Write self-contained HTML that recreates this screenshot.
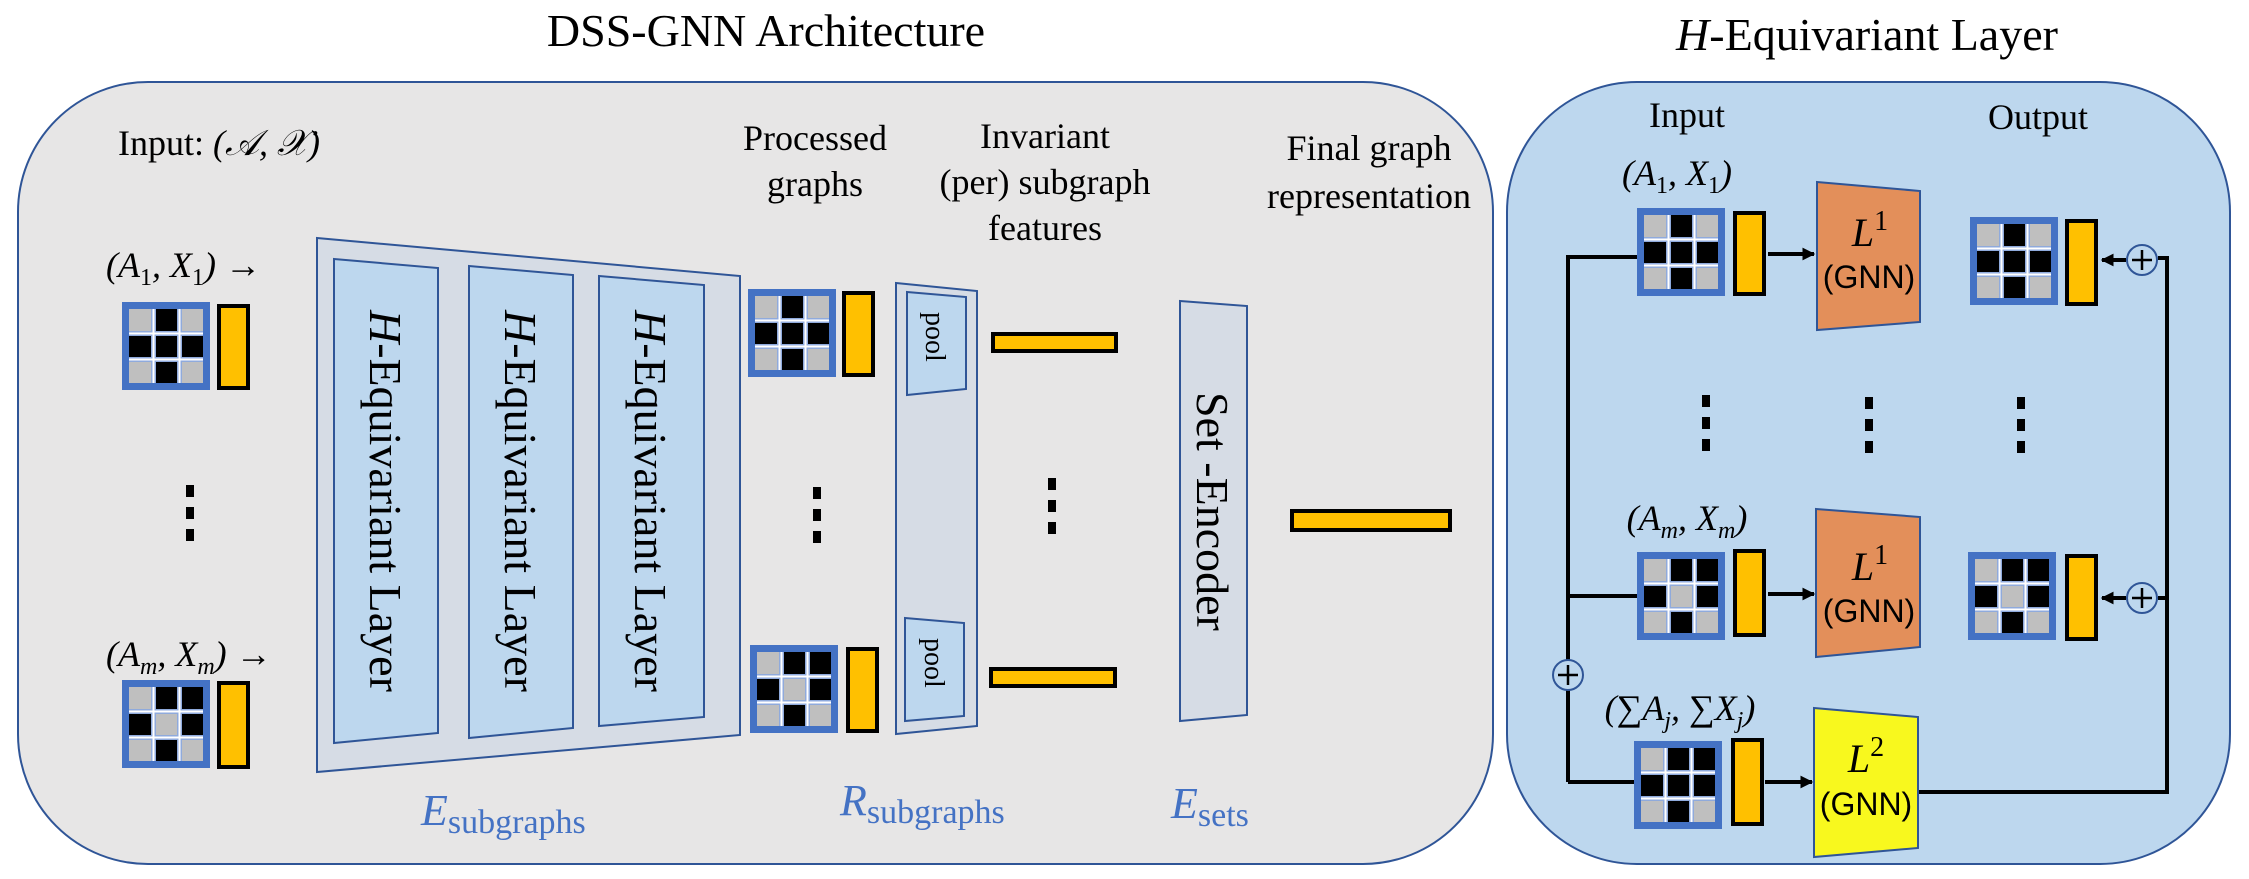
<!DOCTYPE html>
<html><head><meta charset="utf-8"><style>html,body{margin:0;padding:0;background:#fff}svg{display:block}</style></head><body>
<svg width="2249" height="879" viewBox="0 0 2249 879" xmlns="http://www.w3.org/2000/svg">
<defs>
<marker id="ah" viewBox="0 0 10 10" refX="9" refY="5" markerWidth="3.2" markerHeight="3.2" orient="auto"><path d="M0,0L10,5L0,10z" fill="#000"/></marker>
<g id="mA">
<rect x="0" y="0" width="88" height="88" fill="#4472C4"/>
<rect x="7" y="7" width="74" height="74" fill="#8FAADC"/>
<line x1="7" y1="31.5" x2="81" y2="31.5" stroke="#fff" stroke-width="2"/><line x1="7" y1="57.5" x2="81" y2="57.5" stroke="#fff" stroke-width="2"/>
<line x1="31.5" y1="7" x2="31.5" y2="81" stroke="#fff" stroke-width="2"/><line x1="57.5" y1="7" x2="57.5" y2="81" stroke="#fff" stroke-width="2"/>
</g>
<g id="m1"><use href="#mA"/>
<rect x="7" y="7" width="22" height="22" fill="#BFBFBF"/><rect x="34" y="7" width="21" height="22" fill="#000"/><rect x="60" y="7" width="21" height="22" fill="#BFBFBF"/>
<rect x="7" y="34" width="22" height="21" fill="#000"/><rect x="34" y="34" width="21" height="21" fill="#000"/><rect x="60" y="34" width="21" height="21" fill="#000"/>
<rect x="7" y="60" width="22" height="21" fill="#BFBFBF"/><rect x="34" y="60" width="21" height="21" fill="#000"/><rect x="60" y="60" width="21" height="21" fill="#BFBFBF"/>
</g>
<g id="m2"><use href="#mA"/>
<rect x="7" y="7" width="22" height="22" fill="#BFBFBF"/><rect x="34" y="7" width="21" height="22" fill="#000"/><rect x="60" y="7" width="21" height="22" fill="#000"/>
<rect x="7" y="34" width="22" height="21" fill="#000"/><rect x="34" y="34" width="21" height="21" fill="#BFBFBF"/><rect x="60" y="34" width="21" height="21" fill="#000"/>
<rect x="7" y="60" width="22" height="21" fill="#BFBFBF"/><rect x="34" y="60" width="21" height="21" fill="#000"/><rect x="60" y="60" width="21" height="21" fill="#BFBFBF"/>
</g>
<g id="m3"><use href="#mA"/>
<rect x="7" y="7" width="22" height="22" fill="#BFBFBF"/><rect x="34" y="7" width="21" height="22" fill="#000"/><rect x="60" y="7" width="21" height="22" fill="#000"/>
<rect x="7" y="34" width="22" height="21" fill="#000"/><rect x="34" y="34" width="21" height="21" fill="#000"/><rect x="60" y="34" width="21" height="21" fill="#000"/>
<rect x="7" y="60" width="22" height="21" fill="#BFBFBF"/><rect x="34" y="60" width="21" height="21" fill="#000"/><rect x="60" y="60" width="21" height="21" fill="#BFBFBF"/>
</g>
<g id="dots"><rect x="-4" y="0" width="8" height="12" fill="#000"/><rect x="-4" y="22" width="8" height="12" fill="#000"/><rect x="-4" y="44" width="8" height="12" fill="#000"/></g>
</defs>

<g font-family="Liberation Serif, serif" fill="#000">
<text x="766" y="46" font-size="46" text-anchor="middle">DSS-GNN Architecture</text>
<text x="1867" y="50" font-size="46" text-anchor="middle"><tspan font-style="italic">H</tspan>-Equivariant Layer</text>
</g>

<path d="M148,82 H1363 A130,130 0 0 1 1493,212 V734 A130,130 0 0 1 1363,864 H148 A130,130 0 0 1 18,734 V212 A130,130 0 0 1 148,82 Z" fill="#E7E6E6" stroke="#2F5597" stroke-width="2"/>
<path d="M1637,82 H2100 A130,130 0 0 1 2230,212 V734 A130,130 0 0 1 2100,864 H1637 A130,130 0 0 1 1507,734 V212 A130,130 0 0 1 1637,82 Z" fill="#BDD7EE" stroke="#2F5597" stroke-width="2"/>

<g font-family="Liberation Serif, serif" fill="#000" font-size="36">
<text x="118" y="155">Input:  <tspan font-style="italic">(𝒜, 𝒳)</tspan></text>
<text x="815" y="150" text-anchor="middle">Processed</text>
<text x="815" y="196" text-anchor="middle">graphs</text>
<text x="1045" y="148" text-anchor="middle">Invariant</text>
<text x="1045" y="194" text-anchor="middle">(per) subgraph</text>
<text x="1045" y="240" text-anchor="middle">features</text>
<text x="1369" y="160" text-anchor="middle">Final graph</text>
<text x="1369" y="208" text-anchor="middle">representation</text>
<text x="106" y="277" font-style="italic">(A<tspan font-size="24" dy="8" font-style="normal">1</tspan><tspan dy="-8">, X</tspan><tspan font-size="24" dy="8" font-style="normal">1</tspan><tspan dy="-8">) </tspan><tspan font-style="normal">→</tspan></text>
<text x="106" y="666" font-style="italic">(A<tspan font-size="24" dy="8">m</tspan><tspan dy="-8">, X</tspan><tspan font-size="24" dy="8">m</tspan><tspan dy="-8">) </tspan><tspan font-style="normal">→</tspan></text>
<text x="1687" y="127" text-anchor="middle">Input</text>
<text x="2038" y="129" text-anchor="middle">Output</text>
<text x="1677" y="185" text-anchor="middle" font-style="italic">(A<tspan font-size="24" dy="8" font-style="normal">1</tspan><tspan dy="-8">, X</tspan><tspan font-size="24" dy="8" font-style="normal">1</tspan><tspan dy="-8">)</tspan></text>
<text x="1687" y="530" text-anchor="middle" font-style="italic">(A<tspan font-size="24" dy="8">m</tspan><tspan dy="-8">, X</tspan><tspan font-size="24" dy="8">m</tspan><tspan dy="-8">)</tspan></text>
<text x="1680" y="720" text-anchor="middle" font-style="italic">(∑A<tspan font-size="24" dy="8">j</tspan><tspan dy="-8">, ∑X</tspan><tspan font-size="24" dy="8">j</tspan><tspan dy="-8">)</tspan></text>
</g>

<use href="#m1" x="122" y="302"/>
<rect x="219" y="306" width="29" height="82" fill="#FFC000" stroke="#000" stroke-width="4"/>
<use href="#m2" x="122" y="680"/>
<rect x="219" y="683" width="29" height="84" fill="#FFC000" stroke="#000" stroke-width="4"/>
<use href="#dots" x="190" y="485"/>

<polygon points="317,238 740,276 740,735 317,772" fill="#D6DCE5" stroke="#2F5597" stroke-width="2"/>
<polygon points="334,259 438,268 438,733 334,743" fill="#BDD7EE" stroke="#2F5597" stroke-width="2"/>
<polygon points="469,266 573,275 573,728 469,738" fill="#BDD7EE" stroke="#2F5597" stroke-width="2"/>
<polygon points="599,276 704,285 704,717 599,726" fill="#BDD7EE" stroke="#2F5597" stroke-width="2"/>

<use href="#m1" x="748" y="289"/>
<rect x="844" y="293" width="29" height="82" fill="#FFC000" stroke="#000" stroke-width="4"/>
<use href="#m2" x="750" y="645"/>
<rect x="848" y="649" width="29" height="82" fill="#FFC000" stroke="#000" stroke-width="4"/>
<use href="#dots" x="817" y="487"/>

<polygon points="896,283 977,291 977,726 896,734" fill="#D6DCE5" stroke="#2F5597" stroke-width="2"/>
<polygon points="907,292 966,297 966,389 907,395" fill="#BDD7EE" stroke="#2F5597" stroke-width="2"/>
<polygon points="905,618 964,623 964,716 905,721" fill="#BDD7EE" stroke="#2F5597" stroke-width="2"/>
<g font-family="Liberation Serif, serif" font-size="28" fill="#000">
<text transform="translate(926,312) rotate(90)">pool</text>
<text transform="translate(925,638) rotate(90)">pool</text>
</g>
<rect x="993" y="334" width="123" height="17" fill="#FFC000" stroke="#000" stroke-width="4"/>
<rect x="991" y="669" width="124" height="17" fill="#FFC000" stroke="#000" stroke-width="4"/>
<use href="#dots" x="1052" y="478"/>

<polygon points="1180,301 1247,306 1247,715 1180,721" fill="#D6DCE5" stroke="#2F5597" stroke-width="2"/>
<rect x="1292" y="511" width="158" height="19" fill="#FFC000" stroke="#000" stroke-width="4"/>

<g font-family="Liberation Serif, serif" font-size="46" fill="#000">
<text transform="translate(370,310) rotate(90)"><tspan font-style="italic">H</tspan>-Equivariant Layer</text>
<text transform="translate(505,310) rotate(90)"><tspan font-style="italic">H</tspan>-Equivariant Layer</text>
<text transform="translate(635,310) rotate(90)"><tspan font-style="italic">H</tspan>-Equivariant Layer</text>
<text transform="translate(1197,392) rotate(90)">Set -Encoder</text>
</g>

<g font-family="Liberation Serif, serif" fill="#4472C4" font-style="italic">
<text x="421" y="825" font-size="44">E<tspan font-size="34" dy="8" font-style="normal">subgraphs</tspan></text>
<text x="840" y="815" font-size="44">R<tspan font-size="34" dy="8" font-style="normal">subgraphs</tspan></text>
<text x="1171" y="818" font-size="44">E<tspan font-size="34" dy="8" font-style="normal">sets</tspan></text>
</g>

<g stroke="#000" stroke-width="4" fill="none">
<polyline points="1637,257 1568,257 1568,660"/>
<line x1="1568" y1="690" x2="1568" y2="782"/>
<line x1="1568" y1="596" x2="1637" y2="596"/>
<line x1="1568" y1="782" x2="1634" y2="782"/>
<polyline points="1918,792 2167,792 2167,258 2158,258"/>
<line x1="2167" y1="598" x2="2158" y2="598"/>
<line x1="1768" y1="254" x2="1814" y2="254" marker-end="url(#ah)"/>
<line x1="1768" y1="594" x2="1814" y2="594" marker-end="url(#ah)"/>
<line x1="1765" y1="782" x2="1812" y2="782" marker-end="url(#ah)"/>
<line x1="2126" y1="260" x2="2102" y2="260" marker-end="url(#ah)"/>
<line x1="2126" y1="598" x2="2102" y2="598" marker-end="url(#ah)"/>
</g>
<use href="#m1" x="1637" y="208"/>
<rect x="1735" y="213" width="29" height="81" fill="#FFC000" stroke="#000" stroke-width="4"/>
<use href="#m2" x="1637" y="552"/>
<rect x="1735" y="551" width="29" height="84" fill="#FFC000" stroke="#000" stroke-width="4"/>
<use href="#m3" x="1634" y="741"/>
<rect x="1733" y="740" width="29" height="84" fill="#FFC000" stroke="#000" stroke-width="4"/>
<use href="#m1" x="1970" y="217"/>
<rect x="2067" y="221" width="29" height="83" fill="#FFC000" stroke="#000" stroke-width="4"/>
<use href="#m2" x="1968" y="552"/>
<rect x="2067" y="556" width="29" height="83" fill="#FFC000" stroke="#000" stroke-width="4"/>

<polygon points="1817,182 1920,191 1920,322 1817,330" fill="#E38F5A" stroke="#2F5597" stroke-width="2"/>
<polygon points="1816,509 1920,517 1920,647 1816,657" fill="#E38F5A" stroke="#2F5597" stroke-width="2"/>
<polygon points="1814,708 1918,717 1918,848 1814,857" fill="#F8F81E" stroke="#2F5597" stroke-width="2"/>
<g fill="#000" text-anchor="middle">
<text x="1870" y="246" font-family="Liberation Serif, serif" font-style="italic" font-size="40">L<tspan font-style="normal" font-size="28" dy="-16">1</tspan></text>
<text x="1869" y="288" font-family="Liberation Sans, sans-serif" font-size="32">(GNN)</text>
<text x="1870" y="580" font-family="Liberation Serif, serif" font-style="italic" font-size="40">L<tspan font-style="normal" font-size="28" dy="-16">1</tspan></text>
<text x="1869" y="622" font-family="Liberation Sans, sans-serif" font-size="32">(GNN)</text>
<text x="1866" y="772" font-family="Liberation Serif, serif" font-style="italic" font-size="40">L<tspan font-style="normal" font-size="28" dy="-16">2</tspan></text>
<text x="1866" y="815" font-family="Liberation Sans, sans-serif" font-size="32">(GNN)</text>
</g>
<use href="#dots" x="1706" y="395"/>
<use href="#dots" x="1869" y="397"/>
<use href="#dots" x="2021" y="397"/>

<g fill="#BDD7EE" stroke="#2F5597" stroke-width="2">
<circle cx="2142" cy="260" r="15"/>
<circle cx="2142" cy="598" r="15"/>
<circle cx="1568" cy="675" r="15"/>
</g>
<g stroke="#000" stroke-width="2.5">
<line x1="2132" y1="260" x2="2152" y2="260"/><line x1="2142" y1="250" x2="2142" y2="270"/>
<line x1="2132" y1="598" x2="2152" y2="598"/><line x1="2142" y1="588" x2="2142" y2="608"/>
<line x1="1558" y1="675" x2="1578" y2="675"/><line x1="1568" y1="665" x2="1568" y2="685"/>
</g>
</svg>
</body></html>
